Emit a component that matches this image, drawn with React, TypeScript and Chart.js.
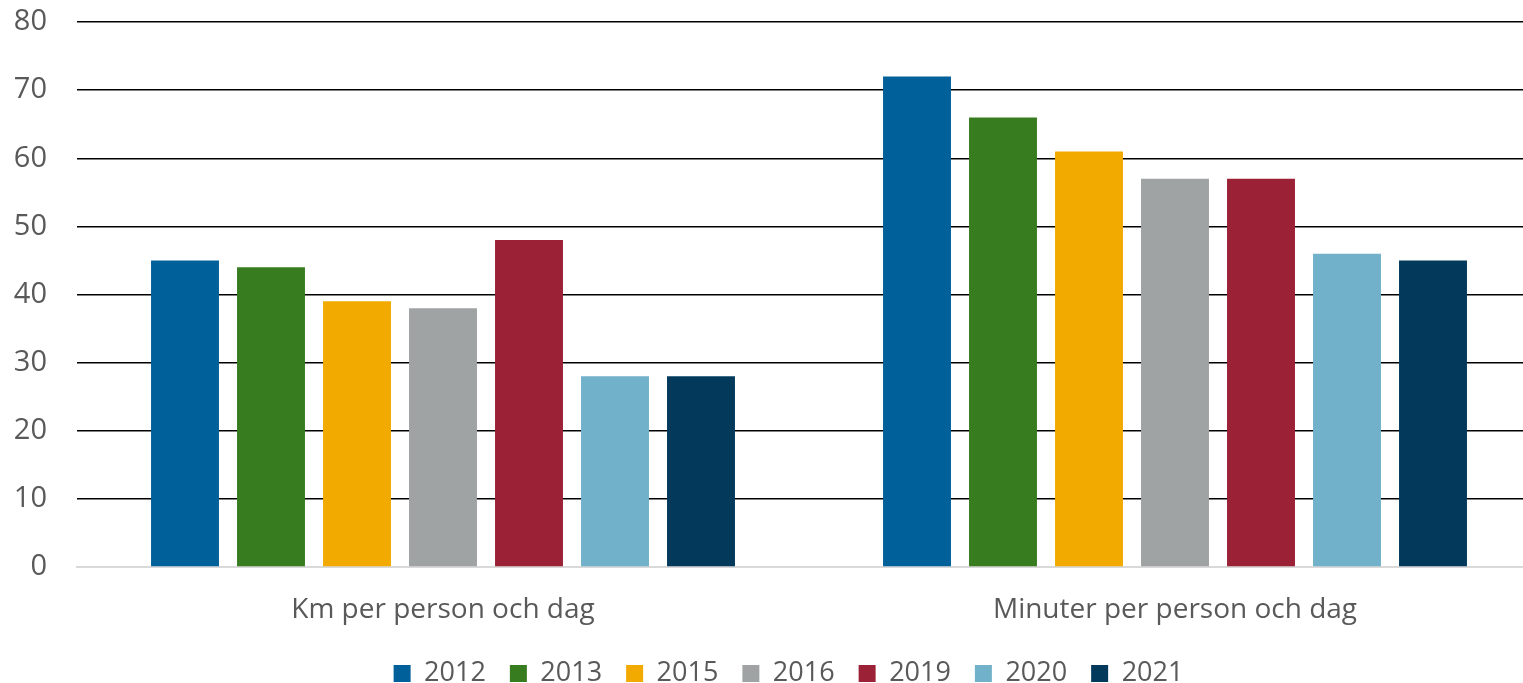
import React, { useEffect, useRef } from "react";
import { Chart, registerables } from "chart.js";

Chart.register(...registerables);

const categories = ["Km per person och dag", "Minuter per person och dag"];
const years = ["2012", "2013", "2015", "2016", "2019", "2020", "2021"];
const colors = ["#00609A", "#387C20", "#F2AA00", "#A0A3A4", "#9B2236", "#71B1CA", "#033A5C"];
const v2012 = [45, 72];
const v2013 = [44, 66];
const v2015 = [39, 61];
const v2016 = [38, 57];
const v2019 = [48, 57];
const v2020 = [28, 46];
const v2021 = [28, 45];
const seriesValues = [v2012, v2013, v2015, v2016, v2019, v2020, v2021];
const yTicks = [0, 10, 20, 30, 40, 50, 60, 70, 80];

const FONT = "'Open Sans', 'Liberation Sans', sans-serif";
const TEXT = "#595959";

const legendShift = {
  id: "legendShift",
  afterLayout(chart: any) {
    const lg = chart.legend;
    if (lg) {
      lg.left += 18;
      lg.right += 18;
    }
  },
};

export default function App() {
  const ref = useRef<HTMLCanvasElement | null>(null);
  useEffect(() => {
    if (!ref.current) return;
    const chart = new Chart(ref.current, {
      type: "bar",
      data: {
        labels: categories,
        datasets: years.map((y, i) => ({
          label: y,
          data: seriesValues[i],
          backgroundColor: colors[i],
          borderWidth: 0,
          categoryPercentage: 0.8224,
          barPercentage: 0.79,
        })),
      },
      plugins: [legendShift],
      options: {
        responsive: false,
        animation: false,
        layout: { padding: { top: 0, right: 4, left: 0, bottom: -14 } },
        plugins: {
          tooltip: { enabled: false },
          legend: {
            position: "bottom",
            labels: {
              boxWidth: 17,
              boxHeight: 17,
              padding: 24,
              color: TEXT,
              font: { family: FONT, size: 27 },
            },
          },
        },
        scales: {
          x: {
            grid: { display: false, drawTicks: false },
            border: { color: "#D9D9D9", width: 2 },
            ticks: { color: TEXT, font: { family: FONT, size: 28 }, padding: 26 },
            afterFit: (axis: any) => {
              axis.height = 69;
            },
          },
          y: {
            min: 0,
            max: 80,
            afterBuildTicks: (axis: any) => {
              axis.ticks = yTicks.map((v) => ({ value: v }));
            },
            afterFit: (axis: any) => {
              axis.width = 77;
              axis.paddingTop = 22;
              axis.paddingBottom = 0;
            },
            grid: {
              color: (ctx: any) => (ctx.tick && ctx.tick.value === 0 ? "rgba(0,0,0,0)" : "#000000"),
              lineWidth: 1.5,
              drawTicks: false,
            },
            border: { display: false },
            ticks: { color: TEXT, font: { family: FONT, size: 29 }, padding: 30 },
          },
        },
      },
    });
    return () => chart.destroy();
  }, []);
  return (
    <div style={{ position: "absolute", left: 0, top: 0, width: 1523, height: 683, overflow: "hidden", background: "#fff" }}>
      <canvas ref={ref} width={1545} height={683} style={{ display: "block", width: 1545, height: 683 }} />
    </div>
  );
}
